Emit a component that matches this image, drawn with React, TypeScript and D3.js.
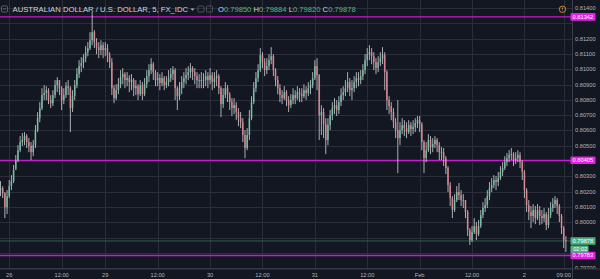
import React from "react";
import * as d3 from "d3";

// 30-minute candles, prices in 1e-5 units
const OPEN_FIRST = 80210;
const closeP = [
80223,80191,80099,80171,80236,80269,80341,80406,80471,80524,
80537,80563,80524,80498,80458,80504,80602,80680,80746,80831,
80844,80863,80798,80778,80831,80896,80929,80876,80798,80831,
80889,80876,80746,80824,80896,80968,81020,81040,81072,81111,
81138,81190,81242,81177,81144,81125,81157,81125,81138,81092,
81046,80876,80811,80863,80902,80948,80968,80929,80942,80916,
80929,80876,80889,80837,80896,80837,80902,80955,80994,81033,
80981,80929,80942,80909,80942,80896,80916,80942,80968,80994,
80876,80824,80876,80916,80942,80961,80981,81007,80981,80955,
80929,80929,80929,80929,80955,80929,80961,80916,80942,80955,
80876,80772,80831,80876,80837,80785,80746,80765,80720,80680,
80654,80570,80485,80570,80680,80785,80876,80942,80994,81092,
81046,80994,81020,81059,81085,80994,80929,80876,80831,80811,
80850,80798,80765,80798,80831,80811,80850,80837,80824,80863,
80844,80876,80896,80942,81020,80961,80700,80720,80641,80537,
80635,80700,80746,80765,80733,80785,80831,80850,80876,80916,
80863,80876,80916,80942,80929,80955,80994,81059,81098,81111,
81085,81046,81007,81046,81072,81092,80981,80798,80759,80720,
80654,80602,80550,80602,80635,80615,80589,80635,80609,80622,
80648,80667,80641,80524,80419,80471,80537,80491,80511,80537,
80504,80458,80458,80419,80354,80243,80158,80080,80145,80197,
80178,80145,80145,80067,79949,79884,79936,79975,79923,79975,
80047,80093,80112,80171,80223,80243,80276,80263,80289,80328,
80354,80393,80419,80439,80445,80406,80419,80439,80393,80328,
80210,80112,80067,80041,80080,80027,80080,80041,80027,80054,
79982,80047,80093,80119,80145,80106,80041,79962,79884,79878];
const highP = [
80269,80236,80197,80210,80276,80308,80374,80439,80504,80563,
80583,80589,80576,80550,80524,80537,80635,80720,80785,80876,
80896,80889,80876,80831,80863,80929,80948,80929,80889,80876,
80916,80929,80889,80863,80929,81007,81059,81079,81098,81151,
81177,81242,81373,81255,81203,81177,81190,81177,81177,81164,
81111,81072,80896,80902,80942,80994,81007,80981,80981,80961,
80968,80942,80929,80902,80929,80916,80942,80994,81033,81072,
81046,80994,80981,80968,80981,80955,80955,80994,81007,81020,
81007,80889,80916,80955,80981,81007,81020,81040,81020,81007,
80981,80968,80981,80974,80994,80981,81007,80981,80981,80994,
80968,80889,80876,80916,80896,80850,80811,80811,80785,80746,
80720,80680,80602,80615,80733,80824,80916,80981,81033,81138,
81111,81072,81072,81098,81144,81098,81007,80955,80902,80863,
80889,80863,80824,80837,80876,80863,80889,80876,80876,80902,
80889,80916,80929,80981,81059,81072,80968,80765,80746,80680,
80680,80733,80785,80811,80798,80824,80876,80889,80929,80981,
80942,80929,80955,80981,80981,80994,81033,81098,81138,81157,
81138,81111,81072,81085,81111,81144,81111,80994,80824,80785,
80746,80680,80798,80654,80680,80667,80654,80667,80654,80667,
80680,80694,80694,80654,80537,80524,80576,80563,80550,80563,
80550,80524,80491,80485,80432,80367,80263,80171,80184,80236,
80256,80210,80184,80145,80080,79962,79975,80027,80001,80014,
80080,80132,80158,80210,80263,80289,80308,80302,80328,80367,
80393,80432,80452,80471,80485,80458,80458,80471,80458,80406,
80341,80223,80145,80106,80119,80106,80119,80106,80080,80093,
80067,80093,80132,80158,80171,80158,80119,80054,79975,79910];
const lowP = [
80171,80158,80027,80054,80158,80210,80256,80354,80393,80458,
80498,80504,80485,80458,80406,80432,80485,80589,80654,80733,
80798,80798,80772,80746,80759,80811,80850,80831,80733,80772,
80811,80831,80589,80720,80798,80876,80942,80981,81007,81046,
81085,81125,81157,81138,81098,81072,81092,81072,81085,81046,
81007,80831,80778,80798,80837,80876,80902,80876,80889,80850,
80863,80824,80831,80798,80824,80798,80824,80876,80916,80968,
80929,80889,80889,80863,80889,80863,80876,80889,80916,80929,
80798,80733,80798,80837,80876,80902,80929,80942,80929,80902,
80876,80876,80876,80876,80889,80876,80902,80863,80876,80889,
80837,80687,80746,80811,80785,80733,80694,80707,80667,80628,
80615,80524,80419,80471,80537,80667,80772,80850,80916,80981,
81007,80955,80968,80994,81033,80955,80889,80837,80785,80772,
80798,80759,80720,80746,80772,80772,80798,80785,80785,80811,
80798,80824,80837,80876,80929,80863,80537,80570,80550,80445,
80504,80602,80667,80707,80694,80707,80759,80798,80824,80850,
80824,80798,80850,80876,80889,80902,80929,80968,81020,81059,
81033,80994,80968,80981,81020,81033,80863,80733,80707,80667,
80615,80550,80321,80504,80576,80563,80550,80576,80563,80576,
80589,80615,80589,80471,80321,80393,80458,80445,80458,80485,
80458,80406,80406,80367,80315,80197,80106,80027,80067,80132,
80145,80106,80093,80027,79910,79852,79871,79923,79884,79910,
79962,80027,80067,80093,80145,80197,80223,80210,80236,80276,
80302,80341,80367,80393,80406,80367,80380,80393,80354,80276,
80158,80067,80014,79962,80001,79988,80014,79982,79988,80001,
79949,79962,80027,80067,80093,80054,80001,79923,79832,79806];

const priceTicks = [0.814,0.813,0.812,0.811,0.81,0.809,0.808,0.807,0.806,0.805,0.804,0.803,0.802,0.801,0.8,0.799,0.798,0.797];
const timeTickIdx = [4,28,48,72,96,120,144,168,192,216,240,258];
const timeTickLabels = ["26","12:00","29","12:00","30","12:00","31","12:00","Feb","12:00","2","09:00"];
const levelLines = [0.81342, 0.80405, 0.79783];
const lastPrice = 0.79878;
const countdown = "02:02";
const title = "AUSTRALIAN DOLLAR / U.S. DOLLAR, 5, FX_IDC";
const ohlcLabels = ["O","H","L","C"];
const ohlcValues = ["0.79850","0.79884","0.79820","0.79878"];

const W = 600, H = 279;
const PLOT_R = 572, AXIS_Y = 268.5;
const BG = "#131722", GRID = "#2a2e3a", TXT = "#b2b5be";
const MAG = "#c41bcb", GREEN = "#4fae80";
const UP = "#74c9a6", DOWN = "#e9848c", WICK = "#d2d4d8";
const FONT = "'Liberation Sans', Arial, sans-serif";

export default function App() {
  const n = closeP.length;
  const x = d3.scaleLinear().domain([0, n - 1]).range([0.5, 0.5 + (n - 1) * 2.183]);
  const y = d3.scaleLinear().domain([0.797, 0.814]).range([268.2, 8.0]);
  const candles = closeP.map((c, i) => {
    const o = (i === 0 ? OPEN_FIRST : closeP[i - 1]) / 1e5;
    return { o, c: c / 1e5, h: highP[i] / 1e5, l: lowP[i] / 1e5, i };
  });
  const pills = [...levelLines, lastPrice];
  const fmt = d3.format(".5f");
  const visibleTicks = priceTicks.filter(p => pills.every(q => Math.abs(y(p) - y(q)) > 6.5) && Math.abs(y(p) - (y(lastPrice) + 8.5)) > 5);

  let cx = 218;
  const ohlcParts: { t: string; x: number; col: string }[] = [];
  ohlcLabels.forEach((lab, k) => {
    ohlcParts.push({ t: lab, x: cx, col: "#d1d4dc" });
    cx += lab === "O" ? 5.9 : lab === "L" ? 4.3 : 5.6;
    ohlcParts.push({ t: ohlcValues[k], x: cx, col: "#53b987" });
    cx += 29.6;
  });

  return (
    <svg width={W} height={H} style={{ position: "fixed", left: 0, top: 0, display: "block" }} fontFamily={FONT}>
      <defs>
        <clipPath id="plot"><rect x={0} y={0} width={PLOT_R} height={AXIS_Y} /></clipPath>
        <clipPath id="axis"><rect x={PLOT_R} y={0} width={W - PLOT_R} height={AXIS_Y} /></clipPath>
      </defs>
      <rect width={W} height={H} fill={BG} />
      {/* grid */}
      <g stroke={GRID} strokeWidth={1}>
        {priceTicks.map(p => (
          <line key={"h" + p} x1={0} x2={PLOT_R} y1={Math.round(y(p)) + 0.5} y2={Math.round(y(p)) + 0.5} />
        ))}
        {timeTickIdx.map(i => (
          <line key={"v" + i} x1={Math.round(x(i)) + 0.5} x2={Math.round(x(i)) + 0.5} y1={0} y2={AXIS_Y} />
        ))}
      </g>
      {/* level lines */}
      <g clipPath="url(#plot)">
        {levelLines.map(p => (
          <line key={"l" + p} x1={0} x2={PLOT_R} y1={y(p)} y2={y(p)} stroke={MAG} strokeWidth={1.3} />
        ))}
        <line x1={0} x2={PLOT_R} y1={y(lastPrice)} y2={y(lastPrice)} stroke="#3a6f5e" strokeWidth={1} opacity={0.8} />
        {/* candles */}
        {candles.map(d => (
          <line key={"w" + d.i} x1={x(d.i)} x2={x(d.i)} y1={y(d.h)} y2={y(d.l)} stroke={WICK} strokeWidth={1} opacity={0.8} />
        ))}
        {candles.map(d => {
          const top = y(Math.max(d.o, d.c));
          const bot = y(Math.min(d.o, d.c));
          return (
            <rect key={"b" + d.i} x={x(d.i) - 0.8} width={1.6} y={top} height={Math.max(0.8, bot - top)}
              fill={d.c >= d.o ? UP : DOWN} opacity={0.8} />
          );
        })}
      </g>
      {/* borders */}
      <line x1={PLOT_R + 0.5} x2={PLOT_R + 0.5} y1={0} y2={H} stroke="#3a3e4a" strokeWidth={1} />
      <line x1={0} x2={W} y1={AXIS_Y + 0.5} y2={AXIS_Y + 0.5} stroke="#3a3e4a" strokeWidth={1} />
      {/* price axis labels */}
      <g clipPath="url(#axis)" fontSize={5.7} fill={TXT}>
        {visibleTicks.map(p => (
          <text key={"t" + p} x={575} y={y(p)} dominantBaseline="central">{fmt(p)}</text>
        ))}
      </g>
      {/* pills */}
      {levelLines.map(p => (
        <g key={"pl" + p}>
          <rect x={570.5} y={y(p) - 3.8} width={25} height={7.6} fill="#e61ee8" rx={0.8} />
          <text x={572.6} y={y(p)} dominantBaseline="central" fontSize={5.7} fill="#ffffff">{fmt(p)}</text>
        </g>
      ))}
      <rect x={570.5} y={y(lastPrice) - 3.8} width={25} height={7.6} fill={GREEN} rx={0.8} />
      <text x={572.6} y={y(lastPrice)} dominantBaseline="central" fontSize={5.7} fill="#ffffff">{fmt(lastPrice)}</text>
      <rect x={570.5} y={y(lastPrice) + 4.6} width={18} height={7.2} fill={GREEN} rx={0.8} />
      <text x={573.2} y={y(lastPrice) + 8.2} dominantBaseline="central" fontSize={5.7} fill="#ffffff">{countdown}</text>
      {/* time axis labels */}
      <g fontSize={5.7} fill={TXT} textAnchor="middle">
        {timeTickIdx.map((i, k) => (
          <text key={"tt" + k} x={x(i)} y={277}>{timeTickLabels[k]}</text>
        ))}
      </g>
      {/* header */}
      <g>
        <rect x={1.5} y={6} width={6} height={6} fill="none" stroke="#6a6d78" strokeWidth={0.8} rx={0.8} />
        <line x1={3} x2={6} y1={9} y2={9} stroke="#6a6d78" strokeWidth={0.8} />
        <text x={12.5} y={12.3} fontSize={7.7} fill="#d1d4dc">{title}</text>
        <path d="M190.5,8.5 L194.5,8.5 L192.5,10.8 Z" fill="#b2b5be" />
        <rect x={198} y={6} width={6} height={6} fill="none" stroke="#5a5d68" strokeWidth={0.8} rx={0.8} />
        <rect x={206.5} y={6} width={6} height={6} fill="none" stroke="#5a5d68" strokeWidth={0.8} rx={0.8} />
        {ohlcParts.map((p, k) => (
          <text key={"o" + k} x={p.x} y={12.3} fontSize={7.6} fill={p.col}>{p.t}</text>
        ))}
      </g>
      {/* event icon */}
      <circle cx={562.5} cy={9.3} r={3.2} fill="none" stroke="#e0902a" strokeWidth={0.9} />
      <line x1={562.5} x2={562.5} y1={7.4} y2={9.6} stroke="#e0902a" strokeWidth={0.8} />
      <circle cx={562.5} cy={10.9} r={0.45} fill="#e0902a" />
    </svg>
  );
}
